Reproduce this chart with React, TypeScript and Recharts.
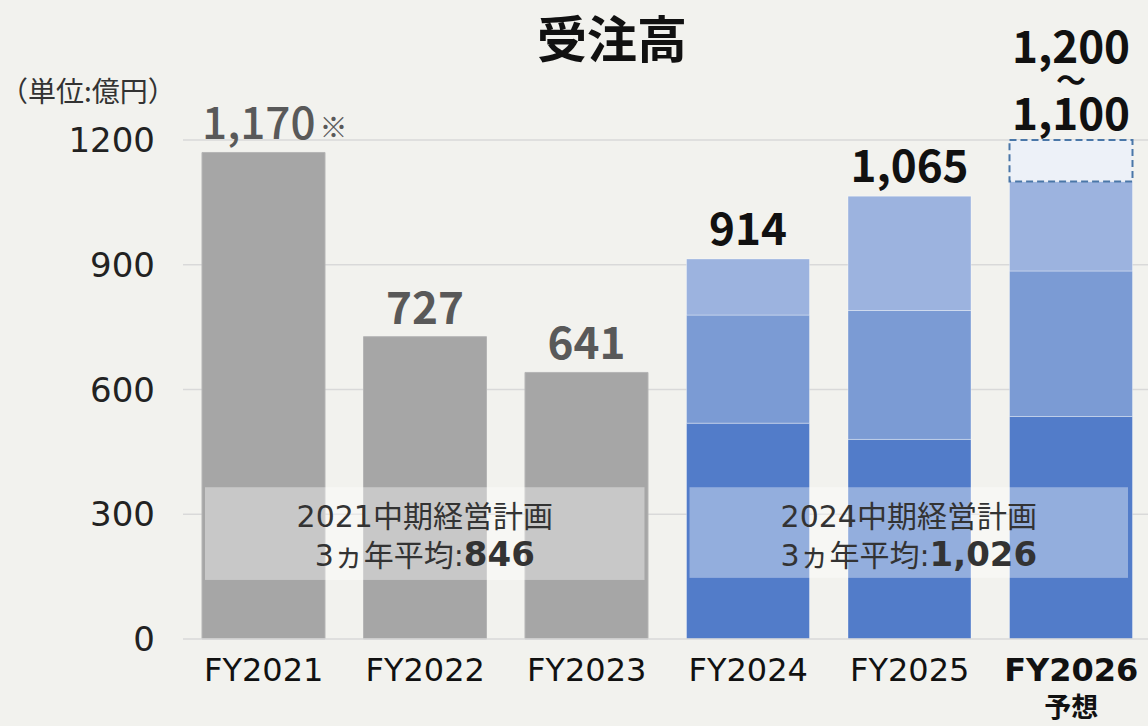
import React from 'react';
import { BarChart, Bar, XAxis, YAxis, CartesianGrid, ReferenceArea, LabelList } from 'recharts';

const categories = ['FY2021', 'FY2022', 'FY2023', 'FY2024', 'FY2025', 'FY2026'];
const subLabels = ['', '', '', '', '', '予想'];
const pastOrders = [1170, 727, 641, null, null, null];
const segBase = [null, null, null, 519, 480, 535];
const segMid = [null, null, null, 260, 310, 350];
const segTop = [null, null, null, 135, 275, 215];
const forecastRange = [null, null, null, null, null, 100];
const pastLabels = ['1,170', '727', '641', null, null, null];
const pastNotes = ['※', '', '', '', '', ''];
const blueLabels = [null, null, null, '914', '1,065', null];
const rangeLabels = [null, null, null, null, null, ['1,200', '〜', '1,100']];
const yTicks = [0, 300, 600, 900, 1200];
const plan1 = { from: 'FY2021', to: 'FY2023', y1: 142, y2: 365, title: '2021中期経営計画', prefix: '3ヵ年平均:', value: '846' };
const plan2 = { from: 'FY2024', to: 'FY2026', y1: 147, y2: 365, title: '2024中期経営計画', prefix: '3ヵ年平均:', value: '1,026' };
const chartTitle = '受注高';
const unitLabel = '（単位:億円）';

const data = categories.map((c, i) => ({
  name: c,
  sub: subLabels[i],
  past: pastOrders[i],
  base: segBase[i],
  mid: segMid[i],
  top: segTop[i],
  range: forecastRange[i],
  pastLabel: pastLabels[i],
  note: pastNotes[i],
  blueLabel: blueLabels[i],
  rangeLabel: rangeLabels[i],
}));

const FONT = '"Noto Sans CJK JP", "Noto Sans", sans-serif';
const WIDE = '"DejaVu Sans", "Noto Sans CJK JP", sans-serif';

const XTick = (props: any) => {
  const { x, y, payload, index } = props;
  const sub = subLabels[index] || data.find((d) => d.name === payload.value)?.sub;
  const bold = !!sub;
  return (
    <g>
      <text x={x} y={y + 34} textAnchor="middle" fontSize={32} fontWeight={bold ? 700 : 400} fill="#111" fontFamily={WIDE}>
        {payload.value}
      </text>
      {sub ? (
        <text x={x} y={y + 70} textAnchor="middle" fontSize={27} fontWeight={700} fill="#111" fontFamily={FONT}>
          {sub}
        </text>
      ) : null}
    </g>
  );
};

const PastLabel = (props: any) => {
  const { x, y, width, value, index } = props;
  if (value == null) return null;
  const cx = x + width / 2;
  const note = pastNotes[index];
  return (
    <g>
      <text x={note ? cx + 52 : cx} y={y - 13} textAnchor={note ? 'end' : 'middle'} fontSize={44} fontWeight={note ? 500 : 700} fill="#595959" fontFamily={FONT}>
        {value}
      </text>
      {note ? (
        <text x={cx + 56} y={y - 14} textAnchor="start" fontSize={28} fill="#595959" fontFamily={FONT}>
          {note}
        </text>
      ) : null}
    </g>
  );
};

const BlueLabel = (props: any) => {
  const { x, y, width, value } = props;
  if (value == null) return null;
  return (
    <text x={x + width / 2} y={y - 14} textAnchor="middle" fontSize={44} fontWeight={700} fill="#111" fontFamily={FONT}>
      {value}
    </text>
  );
};

const RangeLabel = (props: any) => {
  const { x, y, width, value } = props;
  if (value == null || !Array.isArray(value)) return null;
  const cx = x + width / 2;
  return (
    <g fontFamily={FONT} fill="#111" textAnchor="middle">
      <text x={cx} y={y - 77} fontSize={44} fontWeight={700}>{value[0]}</text>
      <text x={cx} y={y - 49} fontSize={30} fontWeight={700}>{value[1]}</text>
      <text x={cx} y={y - 10} fontSize={44} fontWeight={700}>{value[2]}</text>
    </g>
  );
};

const planShape = (plan: any, padL: number, padR: number) => (props: any) => {
  const { x, y, width, height } = props;
  const bx = x + padL;
  const bw = width - padL - padR;
  const cx = bx + bw / 2;
  return (
    <g>
      <rect x={bx} y={y} width={bw} height={height} fill="#ffffff" fillOpacity={0.38} />
      <text x={cx} y={y + 40} textAnchor="middle" fontSize={30} fill="#333" fontFamily={WIDE}>
        {plan.title}
      </text>
      <text x={cx} y={y + 79} textAnchor="middle" fill="#333" fontFamily={WIDE}>
        <tspan fontSize={30}>{plan.prefix}</tspan>
        <tspan fontSize={34} fontWeight={700}>{plan.value}</tspan>
      </text>
    </g>
  );
};

const segStroke = 'rgba(255,255,255,0.35)';

export default function App() {
  return (
    <div style={{ position: 'absolute', left: 0, top: 0, width: 1148, height: 726, overflow: 'hidden', background: '#f2f2ee' }}>
      <BarChart
        width={1152}
        height={726}
        data={data}
        margin={{ top: 140, right: 0, bottom: 27, left: 0 }}
        barSize={123}
      >
        <CartesianGrid vertical={false} stroke="#d9d9d9" strokeWidth={1.5} horizontalValues={[300, 600, 900, 1200]} />
        <XAxis
          dataKey="name"
          axisLine={{ stroke: '#d9d9d9', strokeWidth: 1.5 }}
          tickLine={false}
          tick={<XTick />}
          height={60}
          interval={0}
        />
        <YAxis
          domain={[0, 1200]}
          ticks={yTicks}
          axisLine={false}
          tickLine={false}
          width={183}
          tickMargin={22}
          tick={{ fontSize: 34, fill: '#222', fontFamily: WIDE }}
        />
        <Bar dataKey="past" stackId="a" fill="#a6a6a6" stroke="#b5b5b5" strokeWidth={1} isAnimationActive={false}>
          <LabelList dataKey="pastLabel" content={<PastLabel />} />
        </Bar>
        <Bar dataKey="base" stackId="a" fill="#527cc9" stroke={segStroke} strokeWidth={1} isAnimationActive={false} />
        <Bar dataKey="mid" stackId="a" fill="#7b9bd4" stroke={segStroke} strokeWidth={1} isAnimationActive={false} />
        <Bar dataKey="top" stackId="a" fill="#9cb3df" stroke={segStroke} strokeWidth={1} isAnimationActive={false}>
          <LabelList dataKey="blueLabel" content={<BlueLabel />} />
        </Bar>
        <Bar dataKey="range" stackId="a" fill="#edf1f8" stroke="#4a77a8" strokeWidth={2} strokeDasharray="7 4" isAnimationActive={false}>
          <LabelList dataKey="rangeLabel" content={<RangeLabel />} />
        </Bar>
      </BarChart>
      <div style={{ position: 'absolute', left: 0, top: 0, pointerEvents: 'none' }}>
        <BarChart
          width={1152}
          height={726}
          data={data}
          margin={{ top: 140, right: 0, bottom: 27, left: 0 }}
          barSize={123}
        >
          <XAxis dataKey="name" height={60} tick={false} axisLine={false} tickLine={false} />
          <YAxis domain={[0, 1200]} ticks={yTicks} width={183} tick={false} axisLine={false} tickLine={false} />
          <Bar dataKey="past" fill="transparent" stroke="none" isAnimationActive={false} />
          <ReferenceArea x1={plan1.from} x2={plan1.to} y1={plan1.y1} y2={plan1.y2} shape={planShape(plan1, 22, 23)} ifOverflow="visible" />
          <ReferenceArea x1={plan2.from} x2={plan2.to} y1={plan2.y1} y2={plan2.y2} shape={planShape(plan2, 22, 24)} ifOverflow="visible" />
        </BarChart>
      </div>
      <svg width={1148} height={726} style={{ position: 'absolute', left: 0, top: 0, pointerEvents: 'none' }}>
        <text x={612} y={58} textAnchor="middle" fontSize={50} fontWeight={700} fill="#111" fontFamily={FONT}>
          {chartTitle}
        </text>
        <text x={0} y={102} fontSize={28} fill="#333" fontFamily={FONT}>
          {unitLabel}
        </text>
      </svg>
    </div>
  );
}
